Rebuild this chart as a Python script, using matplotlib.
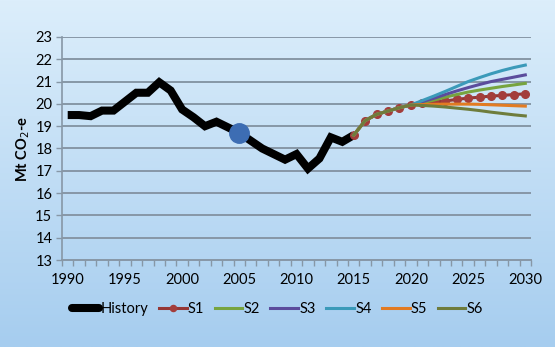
import numpy as np
import matplotlib.pyplot as plt
from matplotlib.colors import LinearSegmentedColormap

plt.rcParams['font.family'] = ['Lato', 'DejaVu Sans']

# emissions history, Mt CO2-e
hist_years = list(range(1990, 2016))
hist_vals = [19.5, 19.5, 19.45, 19.7, 19.7, 20.1, 20.5, 20.5, 20.97, 20.6,
             19.75, 19.4, 19.0, 19.2, 18.95, 18.7, 18.35, 18.0, 17.75, 17.5,
             17.75, 17.1, 17.55, 18.5, 18.3, 18.6]

# scenario projections 2015-2030
proj_years = list(range(2015, 2031))
shared = [18.6, 19.25, 19.53, 19.68, 19.83, 19.95]
s1 = shared + [20.02, 20.08, 20.13, 20.2, 20.26, 20.3, 20.35, 20.38, 20.42, 20.45]
s2 = shared + [20.05, 20.17, 20.3, 20.42, 20.53, 20.62, 20.7, 20.78, 20.85, 20.92]
s3 = shared + [20.1, 20.25, 20.42, 20.58, 20.73, 20.87, 21.0, 21.1, 21.2, 21.3]
s4 = shared + [20.15, 20.35, 20.56, 20.78, 21.0, 21.18, 21.35, 21.5, 21.63, 21.74]
s5 = shared + [19.97, 19.98, 19.99, 19.99, 19.99, 19.98, 19.96, 19.94, 19.92, 19.9]
s6 = shared + [19.93, 19.9, 19.86, 19.81, 19.76, 19.7, 19.63, 19.57, 19.51, 19.46]

highlight_year = 2005

fig = plt.figure(figsize=(5.55, 3.47), dpi=100)

# gradient background
bg = fig.add_axes([0, 0, 1, 1], zorder=-10)
cmap = LinearSegmentedColormap.from_list('bg', ['#dceefb', '#a6cdef'])
grad = np.linspace(0, 1, 256).reshape(-1, 1)
bg.imshow(grad, aspect='auto', cmap=cmap, extent=[0, 1, 0, 1])
bg.axis('off')

ax = fig.add_axes([0.1117, 0.2507, 0.8451, 0.6427])
ax.patch.set_alpha(0)

grid_c = '#8797a6'
for v in range(14, 24):
    ax.axhline(v, color=grid_c, lw=1.4, zorder=1)

ax.plot(hist_years, hist_vals, color='black', lw=5.8, solid_capstyle='butt',
        solid_joinstyle='miter', zorder=3, label='History')
# later series drawn over earlier ones
ax.plot(proj_years, s1, color='#953735', lw=2.2, marker='o', ms=5.5,
        mfc='#a33d3b', mec='#a33d3b', zorder=4, label='S1')
ax.plot(proj_years, s2, color='#77a43f', lw=2.2, zorder=4.1, label='S2')
ax.plot(proj_years, s3, color='#5b4c9c', lw=2.2, zorder=4.2, label='S3')
ax.plot(proj_years, s4, color='#3b9ab9', lw=2.2, zorder=4.3, label='S4')
ax.plot(proj_years, s5, color='#e27b22', lw=2.2, zorder=4.4, label='S5')
ax.plot(proj_years, s6, color='#6e7c3c', lw=2.2, zorder=4.5, label='S6')

hv = hist_vals[hist_years.index(highlight_year)]
ax.plot([highlight_year], [hv], 'o', ms=14, color='#3d6db3', zorder=6)

ax.set_xlim(1989.5, 2030.5)
ax.set_ylim(13, 23)
ax.set_yticks(range(13, 24))
ax.set_xticks(range(1990, 2031, 5))
ax.set_xticks(np.arange(1989.5, 2031, 1), minor=True)
ax.tick_params(axis='x', which='major', length=0, pad=9, labelsize=10.5)
ax.tick_params(axis='x', which='minor', length=4, width=1, color=grid_c,
               direction='out')
ax.tick_params(axis='y', length=4, width=1, color=grid_c, labelsize=10.5,
               pad=3)

for side in ['top', 'right']:
    ax.spines[side].set_visible(False)
ax.spines['left'].set_color(grid_c)
ax.spines['bottom'].set_color(grid_c)
ax.spines['left'].set_linewidth(1.2)
ax.spines['bottom'].set_linewidth(1.4)

ax.set_ylabel('Mt CO$_2$-e', fontsize=10.5, fontweight='bold', labelpad=2)

leg = fig.legend(loc='center', bbox_to_anchor=(0.5, 0.11), ncol=7,
                 frameon=False, fontsize=10.5, handlelength=1.9,
                 handletextpad=0.1, columnspacing=0.7, numpoints=1,
                 markerscale=0.8)
leg.get_lines()[0].set_solid_capstyle('round')

fig.savefig('out.png', dpi=100)
